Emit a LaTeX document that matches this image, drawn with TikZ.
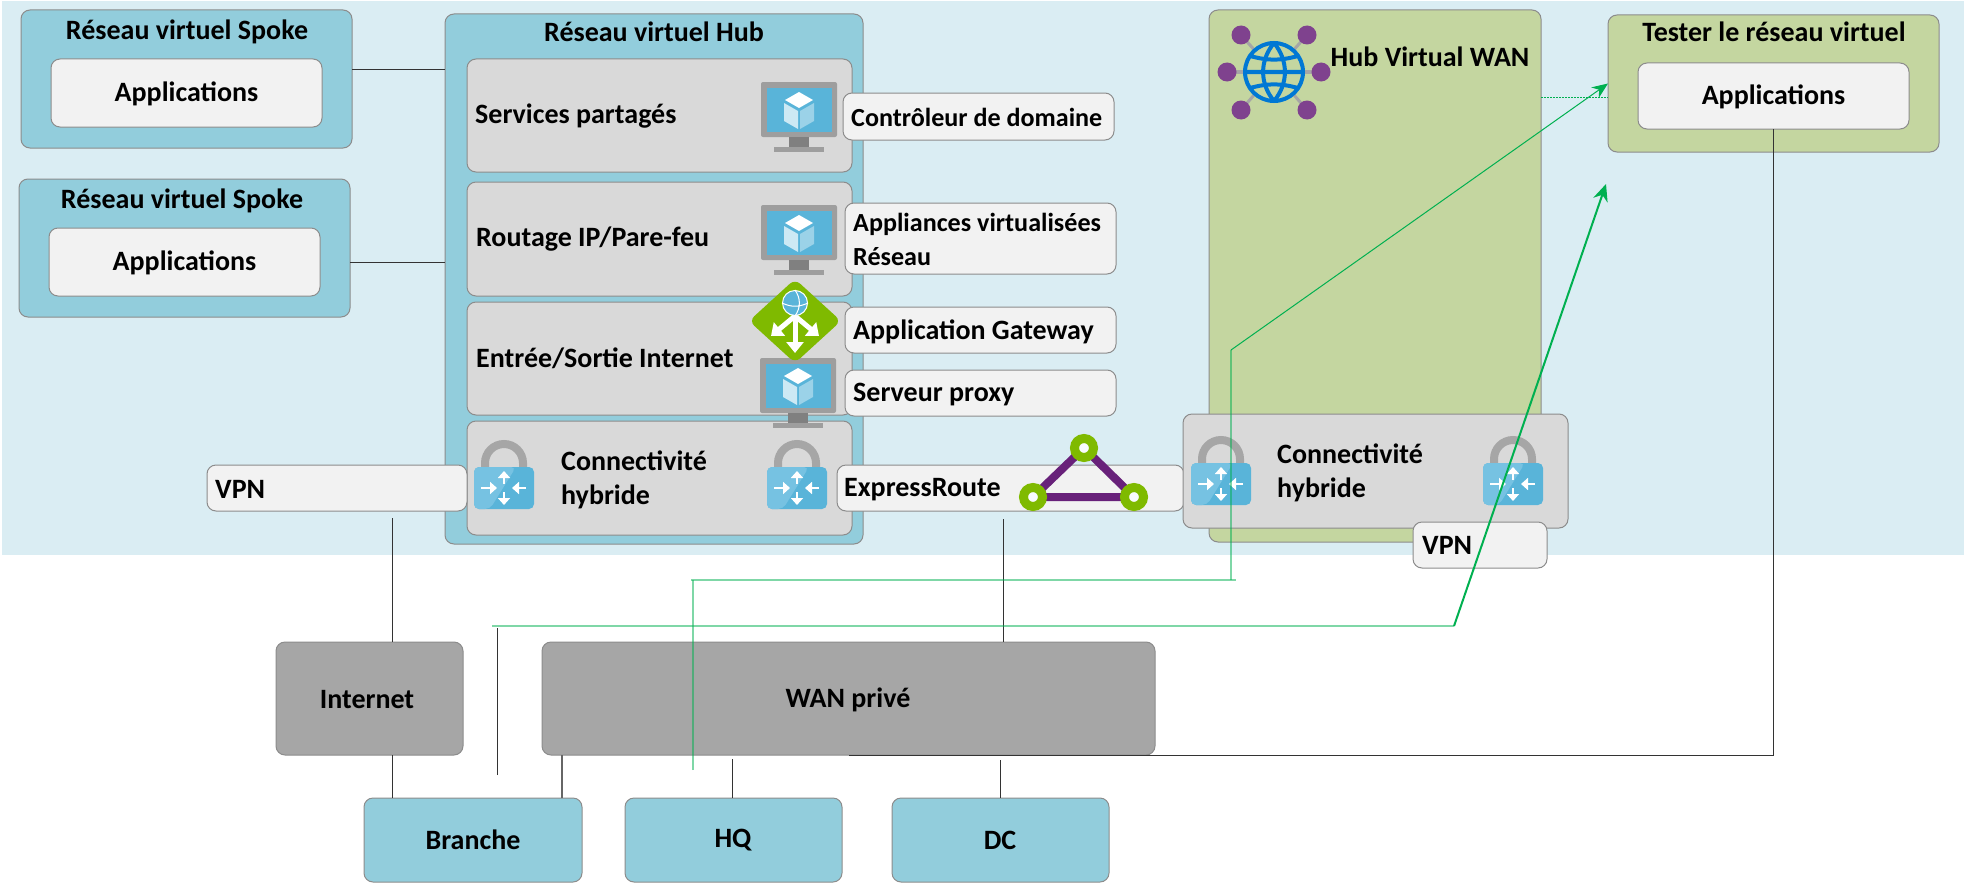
\documentclass[tikz,border=0pt]{standalone}
\usepackage{fontspec}
\setmainfont{Carlito}
\usepackage{xcolor}
\usepackage{tikz}
\usetikzlibrary{arrows.meta}

\definecolor{skyback}{HTML}{DAEDF3}
\definecolor{vnetblue}{HTML}{92CDDC}
\definecolor{panelgray}{HTML}{D9D9D9}
\definecolor{labelgray}{HTML}{F2F2F2}
\definecolor{edgegray}{HTML}{8C8C8C}
\definecolor{wangreen}{HTML}{C4D6A0}
\definecolor{cloudgray}{HTML}{A6A6A6}
\definecolor{azureblue}{HTML}{59B4D9}
\definecolor{azurelight}{HTML}{76C2E2}
\definecolor{globeblue}{HTML}{0078D4}
\definecolor{linkgreen}{HTML}{00B050}
\definecolor{erpurple}{HTML}{68217A}
\definecolor{ergreen}{HTML}{7FBA00}

\tikzset{
    card/.style={draw=edgegray, line width=1pt, rounded corners=9pt, inner sep=0pt, outer sep=0pt},
    vnet/.style={card, fill=vnetblue},
    panel/.style={card, fill=panelgray},
    applabel/.style={card, fill=labelgray},
    wanbox/.style={card, fill=wangreen},
    cloud/.style={card, fill=cloudgray},
    txt/.style={font=\fontsize{28}{34}\selectfont\bfseries, inner sep=0pt, align=left, yshift=-1.5pt},
    txtsmall/.style={txt, font=\fontsize{26.1}{34}\selectfont\bfseries},
    wire/.style={draw=black!80, line width=1pt},
    lightlink/.style={draw=linkgreen, opacity=0.5, line width=1.5pt},
    gwarrow/.style={white, line width=5pt, -{Triangle[length=11pt,width=17pt]}},
    monitor/.pic={
        \fill[cloudgray!95!black, rounded corners=2pt] (-38,0) rectangle (38,55);
        \fill[azureblue] (-32.5,5.5) rectangle (32.5,50);
        \fill[gray] (-10,55) rectangle (10,65);
        \fill[cloudgray!95!black] (-25,65) rectangle (25,70);
        \fill[white] (0,10) -- (14,18) -- (0,26) -- (-14,18) -- cycle;
        \fill[white!70!azureblue] (-15,21) -- (-1,29) -- (-1,47) -- (-15,39) -- cycle;
        \fill[white!40!azureblue] (15,21) -- (1,29) -- (1,47) -- (15,39) -- cycle;
    },
    lockicon/.pic={
        \draw[cloudgray, line width=8pt] (-19,3) -- (-19,-4) arc (180:360:19) -- (19,3);
        \fill[azureblue, rounded corners=5pt] (-30,0) rectangle (30,42);
        \fill[azurelight, rounded corners=5pt] (-30,0) -- (12,0) -- (-14,42) -- (-30,42) -- cycle;
        \foreach \sx/\sy/\ex/\ey in {0/17/0/4, 0/25/0/38, -23/21/-7/21, 22/21/8/21}
            \draw[white, line width=2.5pt, -{Triangle[length=7pt,width=12pt]}] (\sx,\sy) -- (\ex,\ey);
    },
}

\begin{document}
\begin{tikzpicture}[x=1pt, y=-1pt]
    \useasboundingbox (0,0) rectangle (1964,883);
    \fill[skyback] (2,1) rectangle (1964,555);

    % spokes and hub
    \node[vnet, minimum width=331pt, minimum height=138pt] (spokeA) at (186.5,79) {};
    \node[applabel, minimum width=271pt, minimum height=68pt] (appsA) at (186.5,93) {};
    \node[txt] (appsAtxt) at (186.5,92) {Applications};
    \node[txt] (spokeAtxt) at (187,30) {Réseau virtuel Spoke};
    \node[vnet, minimum width=331pt, minimum height=138pt] (spokeB) at (184.5,248) {};
    \node[applabel, minimum width=271pt, minimum height=68pt] (appsB) at (184.5,262) {};
    \node[txt] (appsBtxt) at (184.5,261) {Applications};
    \node[txt] (spokeBtxt) at (182,199) {Réseau virtuel Spoke};

    \node[vnet, minimum width=418pt, minimum height=530pt] (hub) at (654,279) {};
    \node[txt] (hubtxt) at (654,30) {Réseau virtuel Hub};
    \node[panel, minimum width=385pt, minimum height=113pt] (shared) at (659.5,115.5) {};
    \node[panel, minimum width=385pt, minimum height=114pt] (routing) at (659.5,239) {};
    \node[panel, minimum width=385pt, minimum height=113pt] (edge) at (659.5,358.5) {};
    \node[panel, minimum width=385pt, minimum height=114pt] (hybrid) at (659.5,478) {};
    \node[txt, anchor=west] (sharedtxt) at (475,115) {Services partagés};
    \node[txt, anchor=west] (routingtxt) at (476,238) {Routage IP/Pare-feu};
    \node[txt, anchor=west] (edgetxt) at (476,357) {Entrée/Sortie Internet};
    \node[txt, anchor=west] (hybridtxt) at (561,478.5) {Connectivité\\hybride};

    \pic at (799,82) {monitor};
    \pic at (799,205) {monitor};
    \pic at (798,358) {monitor};
    \fill[ergreen, rounded corners=7pt] (795,279) -- (841,321) -- (795,363) -- (749,321) -- cycle;
    \draw[gwarrow] (795,312) -- (795,353);
    \draw[gwarrow] (795,316) -- (771,336);
    \draw[gwarrow] (795,316) -- (819,336);
    \node[draw=white, line width=1pt, fill=azureblue, circle, minimum size=25pt, inner sep=0pt] (gatewayglobe) at (795,303) {};
    \draw[white, line width=1pt] (gatewayglobe.west) to[bend right=25] (gatewayglobe.east)
        (gatewayglobe.north) to[bend left=35] (gatewayglobe.south);

    % labels next to the hub
    \node[applabel, minimum width=271pt, minimum height=47pt] (domain) at (978.5,116.5) {};
    \node[txtsmall, anchor=west] (domaintxt) at (851,116) {Contrôleur de domaine};
    \node[applabel, minimum width=271pt, minimum height=71pt] (nva) at (980.5,238.5) {};
    \node[txtsmall, anchor=west] (nvatxt) at (853,238) {Appliances virtualisées\\Réseau};
    \node[applabel, minimum width=271pt, minimum height=46pt] (appgw) at (980.5,330) {};
    \node[txt, anchor=west] (appgwtxt) at (853,330) {Application Gateway};
    \node[applabel, minimum width=271pt, minimum height=46pt] (proxy) at (980.5,393) {};
    \node[txt, anchor=west] (proxytxt) at (853,393) {Serveur proxy};

    % virtual wan side
    \node[wanbox, minimum width=332pt, minimum height=532pt] (wanhub) at (1375,276) {};
    \node[txt] (wanhubtxt) at (1430,55) {Hub Virtual WAN};
    \foreach \sx/\sy in {1241/35, 1307/35, 1227/72, 1321/72, 1241/110, 1307/110} {
        \draw[cloudgray, line width=3pt] (1274,72) -- (\sx,\sy);
        \fill[erpurple!85!white] (\sx,\sy) circle (9.5);
    }
    \fill[wangreen] (1274,72) circle (30);
    \draw[globeblue, line width=4pt] (1274,72) circle (29)
        (1245,72) -- (1303,72) (1250,56) to[bend right=15] (1298,56) (1250,88) to[bend left=15] (1298,88)
        (1274,43) to[bend right=40] (1274,101) (1274,43) to[bend left=40] (1274,101);

    \node[applabel, minimum width=347pt, minimum height=46pt] (express) at (1010.5,488) {};
    \node[txt, anchor=west] (expresstxt) at (844,488) {ExpressRoute};
    \node[panel, minimum width=385pt, minimum height=114pt] (hybridB) at (1375.5,471) {};
    \node[txt, anchor=west] (hybridBtxt) at (1277,471) {Connectivité\\hybride};
    \pic at (1221,463) {lockicon};
    \pic at (1513,463) {lockicon};
    \node[applabel, minimum width=134pt, minimum height=46pt] (vpnB) at (1480,545) {};
    \node[txt, anchor=west] (vpnBtxt) at (1422,544) {VPN};

    \node[applabel, minimum width=260pt, minimum height=46pt] (vpnA) at (337,488) {};
    \node[txt, anchor=west] (vpnAtxt) at (215,488) {VPN};
    \pic at (504,467) {lockicon};
    \pic at (797,467) {lockicon};

    % express route triangle
    \coordinate (erTop) at (1084,448);
    \coordinate (erLeft) at (1033,497);
    \coordinate (erRight) at (1134,497);
    \draw[erpurple, line width=8pt, line join=round] (erTop) -- (erLeft) -- (erRight) -- cycle;
    \foreach \p in {erTop, erLeft, erRight} {
        \fill[white!80!skyback] (\p) circle (6);
        \draw[ergreen, line width=9pt] (\p) circle (9.5);
    }

    % test vnet
    \node[wanbox, minimum width=331pt, minimum height=137pt] (tester) at (1773.5,83.5) {};
    \node[txt] (testertxt) at (1774,30) {Tester le réseau virtuel};
    \node[applabel, minimum width=271pt, minimum height=66pt] (appsC) at (1773.5,96) {};
    \node[txt] (appsCtxt) at (1773.5,95) {Applications};

    % clouds and sites
    \node[cloud, minimum width=187pt, minimum height=113pt] (internet) at (369.5,698.5) {};
    \node[txt] (internettxt) at (367,698) {Internet};
    \node[cloud, minimum width=613pt, minimum height=113pt] (wan) at (848.5,698.5) {};
    \node[txt] (wantxt) at (848,698) {WAN privé};
    \node[vnet, minimum width=218pt, minimum height=84pt] (branch) at (473,840) {};
    \node[txt] (branchtxt) at (473,838) {Branche};
    \node[vnet, minimum width=217pt, minimum height=84pt] (hq) at (733.5,840) {};
    \node[txt] (hqtxt) at (733,839) {HQ};
    \node[vnet, minimum width=217pt, minimum height=84pt] (dc) at (1000.5,840) {};
    \node[txt] (dctxt) at (1000,839) {DC};

    % black links
    \coordinate (spokeAout) at (352,70);
    \coordinate (spokeBout) at (350,262);
    \coordinate (vpnOut) at (392,518);
    \coordinate (expressOut) at (1003,519);
    \coordinate (wanOut) at (849,755);
    \coordinate (branchUp) at (497,628);
    \coordinate (branchEnd) at (497,775);
    \coordinate (branchWan) at (562,755);
    \coordinate (hqWan) at (732,759);
    \coordinate (dcWan) at (1000,760);
    \draw[wire] (spokeAout) -- (spokeAout -| hub.west);
    \draw[wire] (spokeBout) -- (spokeBout -| hub.west);
    \draw[wire] (vpnOut) -- (vpnOut |- internet.north);
    \draw[wire] (vpnOut |- internet.south) -- (vpnOut |- branch.north);
    \draw[wire] (expressOut) -- (expressOut |- wan.north);
    \draw[wire, draw=black!60, line width=1.5pt] (branchWan) -- (branchWan |- branch.north);
    \draw[wire] (hqWan) -- (hqWan |- hq.north);
    \draw[wire] (dcWan) -- (dcWan |- dc.north);
    \draw[wire] (wanOut) -- (wanOut -| appsC.south) -- (appsC.south);
    \draw[wire] (branchEnd) -- (branchUp);

    % green links
    \coordinate (hqUp) at (693,770);
    \coordinate (hqTurn) at (691,580);
    \coordinate (hqEnd) at (1236,580);
    \coordinate (wanRise) at (1231,350);
    \coordinate (branchStart) at (492,626);
    \coordinate (branchKnee) at (1454,626);
    \coordinate (testerIn) at (1606,184);
    \coordinate (dotStart) at (1541,97);
    \draw[lightlink] (hqTurn) -- (hqEnd);
    \draw[lightlink] (hqUp) -- (hqUp |- hqTurn);
    \draw[lightlink] (wanRise) -- (wanRise |- hqEnd);
    \draw[draw=linkgreen, line width=1pt, -{Stealth[length=16pt,width=13pt]}] (wanRise) -- (tester.west);
    \draw[lightlink] (branchStart) -- (branchKnee);
    \draw[draw=linkgreen, line width=2pt, -{Stealth[length=17pt,width=15pt]}] (branchKnee) -- (testerIn);
    \draw[draw=linkgreen, line width=1pt, dash pattern=on 1.5pt off 1.5pt] (dotStart) -- (dotStart -| tester.west);
\end{tikzpicture}
\end{document}
